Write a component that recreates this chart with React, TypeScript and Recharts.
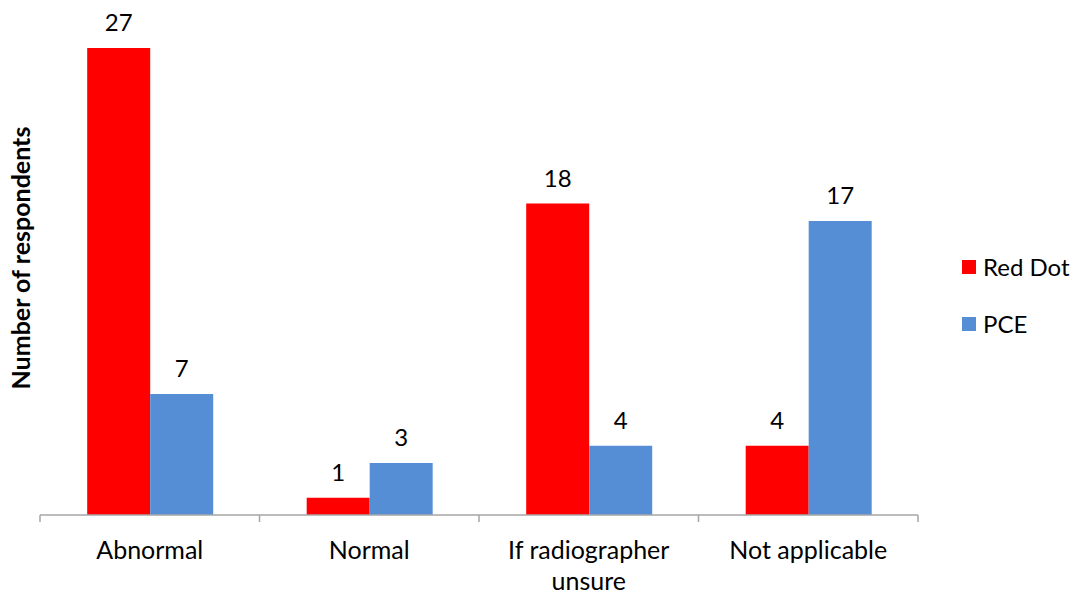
import React from 'react';
import { BarChart, Bar, XAxis, YAxis, LabelList } from 'recharts';

const categories = ['Abnormal', 'Normal', 'If radiographer\nunsure', 'Not applicable'];
const redDot = [27, 1, 18, 4];
const pce = [7, 3, 4, 17];
const seriesNames = ['Red Dot', 'PCE'];
const seriesColors = ['#FF0000', '#558ED5'];

const data = categories.map((name, i) => ({ name, redDot: redDot[i], pce: pce[i] }));

const FONT = 'Lato, "Open Sans", sans-serif';
const AXIS_COLOR = '#A6A6A6';

const CategoryTick = (props: any) => {
  const { x, y, payload, width, visibleTicksCount, index } = props;
  const half = width / (2 * visibleTicksCount);
  const lines = String(payload.value).split('\n');
  return (
    <g>
      <line x1={x - half} x2={x - half} y1={y - 8} y2={y - 1} stroke={AXIS_COLOR} strokeWidth={1.5} />
      {index === visibleTicksCount - 1 && (
        <line x1={x + half} x2={x + half} y1={y - 8} y2={y - 1} stroke={AXIS_COLOR} strokeWidth={1.5} />
      )}
      <text x={x} y={y + 36} textAnchor="middle" fontSize={25} fontFamily={FONT} fill="#000">
        {lines.map((l, i) => (
          <tspan key={i} x={x} dy={i === 0 ? 0 : 31}>{l}</tspan>
        ))}
      </text>
    </g>
  );
};

export default function App() {
  return (
    <div style={{ position: 'absolute', left: 0, top: 0, width: 1075, height: 596, background: '#fff' }}>
      <BarChart
        width={1075}
        height={596}
        data={data}
        margin={{ top: -4, right: 157, left: 40, bottom: 0 }}
        barCategoryGap="21.5%"
        barGap={0}
      >
        <XAxis
          dataKey="name"
          height={81}
          interval={0}
          tickLine={false}
          axisLine={{ stroke: AXIS_COLOR, strokeWidth: 1.5 }}
          tick={<CategoryTick />}
        />
        <YAxis hide domain={[0, 30]} />
        <Bar dataKey="redDot" name="Red Dot" fill="#FF0000" isAnimationActive={false}>
          <LabelList dataKey="redDot" position="top" offset={17} fontSize={24} fontFamily={FONT} fill="#000" />
        </Bar>
        <Bar dataKey="pce" name="PCE" fill="#558ED5" isAnimationActive={false}>
          <LabelList dataKey="pce" position="top" offset={17} fontSize={24} fontFamily={FONT} fill="#000" />
        </Bar>
      </BarChart>
      <div style={{ position: 'absolute', left: 962, top: 238, fontFamily: FONT, fontSize: 24, color: '#000' }}>
        {seriesNames.map((label, i) => (
          <div key={label} style={{ display: 'flex', alignItems: 'center', height: 57 }}>
            <span style={{ display: 'inline-block', width: 14, height: 14, background: seriesColors[i], marginRight: 7 }} />
            {label}
          </div>
        ))}
      </div>
      <div
        style={{
          position: 'absolute',
          left: 20,
          top: 258,
          transform: 'translate(-50%, -50%) rotate(-90deg)',
          whiteSpace: 'nowrap',
          fontFamily: FONT,
          fontWeight: 'bold',
          fontSize: 25,
          color: '#000',
        }}
      >
        Number of respondents
      </div>
    </div>
  );
}
